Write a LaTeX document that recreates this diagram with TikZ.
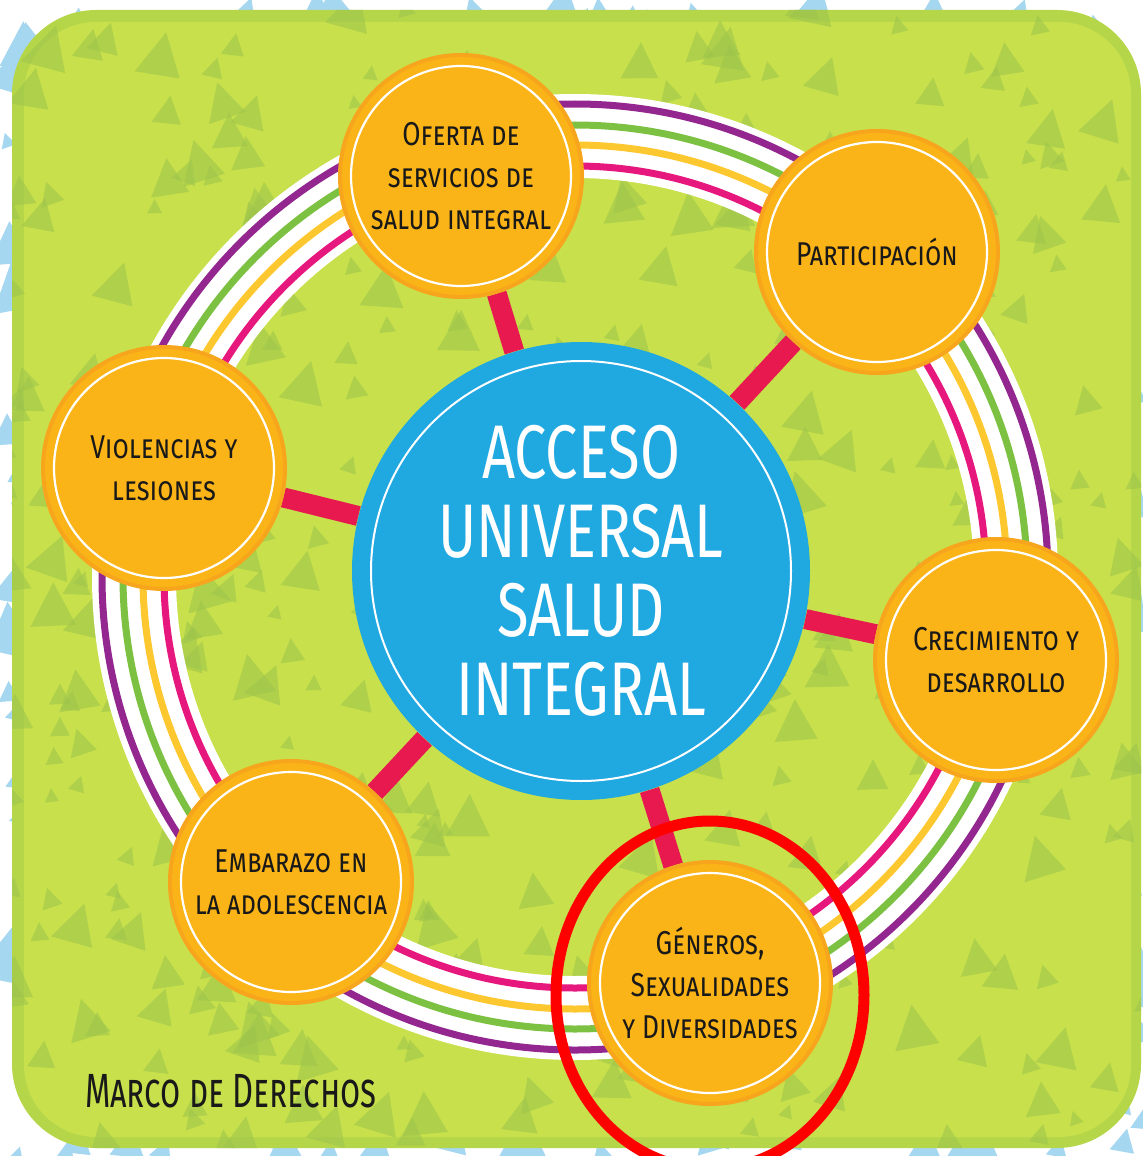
\documentclass[tikz,border=0pt]{standalone}
\usepackage{fontspec}
\setmainfont{Fira Sans}[FakeStretch=0.8]
\newfontfamily\hubfont{Fira Sans}[FakeStretch=0.76]
\newfontfamily\marcofont{Fira Sans}[FakeStretch=0.68]

\definecolor{lime}{HTML}{C8E04B}
\definecolor{limeedge}{HTML}{B6D64A}
\definecolor{leaf}{HTML}{9CC44C}
\definecolor{sky}{HTML}{A6D7F0}
\definecolor{hubblue}{HTML}{20A8E0}
\definecolor{amber}{HTML}{FBB417}
\definecolor{amberedge}{HTML}{F7A51C}
\definecolor{spokered}{HTML}{E8194F}
\definecolor{ringpurple}{HTML}{93278F}
\definecolor{ringgreen}{HTML}{7DC142}
\definecolor{ringyellow}{HTML}{FDC82F}
\definecolor{ringpink}{HTML}{E6177D}

\pgfdeclarelayer{back}
\pgfdeclarelayer{links}
\pgfsetlayers{back,links,main}

\tikzset{
  topic/.style={circle, fill=amber, draw=amberedge, line width=2pt,
    minimum size=121pt, inner sep=0pt, align=center, text=black!90,
    font=\fontsize{16.5}{21}\selectfont\scshape,
    path picture={\draw[white, line width=1.1pt]
      (path picture bounding box.center) circle[radius=55pt];}},
  hub/.style={circle, fill=hubblue, minimum size=229pt, inner sep=0pt,
    align=center, text=white, font=\hubfont\fontsize{38}{39.5}\selectfont,
    path picture={\draw[white, line width=1pt]
      (path picture bounding box.center) circle[radius=105pt];}},
  link/.style={draw=spokered, line width=10pt},
  band/.style={line width=3.5pt},
  tri/.style={fill=#1, opacity=0.55}
}

\begin{document}
\begin{tikzpicture}[x=0.5pt, y=-0.5pt]
\useasboundingbox (0,0) rectangle (1143,1156);
\pgfmathsetseed{42}

\begin{pgfonlayer}{back}
% paper with blue triangles
\fill[white] (0,0) rectangle (1143,1156);
\foreach \i in {1,...,520}{
  \pgfmathsetmacro\tx{rnd*1143}
  \pgfmathsetmacro\ty{rnd*1156}
  \pgfmathsetmacro\ts{12+rnd*34}
  \pgfmathsetmacro\tr{rnd*40-20}
  \fill[sky, shift={(\tx,\ty)}, rotate=\tr, scale=\ts]
    (-0.55,0.45) -- (0.55,0.45) -- (0.05,-0.6) -- cycle;
}

% green card
\fill[limeedge, rounded corners=42pt] (12,10) rectangle (1141,1148);
\fill[lime, rounded corners=36pt] (24,22) rectangle (1131,1137);
\begin{scope}
\clip[rounded corners=42pt] (12,10) rectangle (1141,1148);
\foreach \i in {1,...,440}{
  \pgfmathsetmacro\tx{rnd*1143}
  \pgfmathsetmacro\ty{rnd*1156}
  \pgfmathsetmacro\ts{12+rnd*30}
  \pgfmathsetmacro\tr{rnd*40-20}
  \fill[tri=leaf, shift={(\tx,\ty)}, rotate=\tr, scale=\ts]
    (-0.55,0.45) -- (0.55,0.45) -- (0.05,-0.6) -- cycle;
}
\end{scope}

% ring
\draw[white, line width=42pt] (575,577) circle[radius=441];
\draw[band, ringpurple] (575,577) circle[radius=473];
\draw[band, ringgreen] (575,577) circle[radius=452];
\draw[band, ringyellow] (575,577) circle[radius=432];
\draw[band, ringpink] (575,577) circle[radius=411];
\end{pgfonlayer}

% hub and topics
\node[hub] (acceso) at (581,571) {ACCESO\\UNIVERSAL\\SALUD\\INTEGRAL};
\node[topic] (oferta) at (461,176) {Oferta de\\servicios de\\salud integral};
\node[topic] (partic) at (877,252) {Participación};
\node[topic] (violen) at (164,468) {Violencias y\\lesiones};
\node[topic] (crecim) at (996,660) {Crecimiento y\\desarrollo};
\node[topic] (embara) at (291,882) {Embarazo en\\la adolescencia};
\node[topic] (generos) at (710,983) {Géneros,\\Sexualidades\\y Diversidades};

\begin{pgfonlayer}{links}
\foreach \t in {oferta,partic,violen,crecim,embara,generos}
  \draw[link] (acceso) -- (\t);
\end{pgfonlayer}

\node[anchor=base west, font=\marcofont\fontsize{24}{28}\selectfont\scshape,
  text=black!90] (marco) at (78,1107) {Marco de Derechos};

% highlight
\draw[red, line width=5.5pt] (710,995) ellipse[x radius=154, y radius=174];
\end{tikzpicture}
\end{document}
